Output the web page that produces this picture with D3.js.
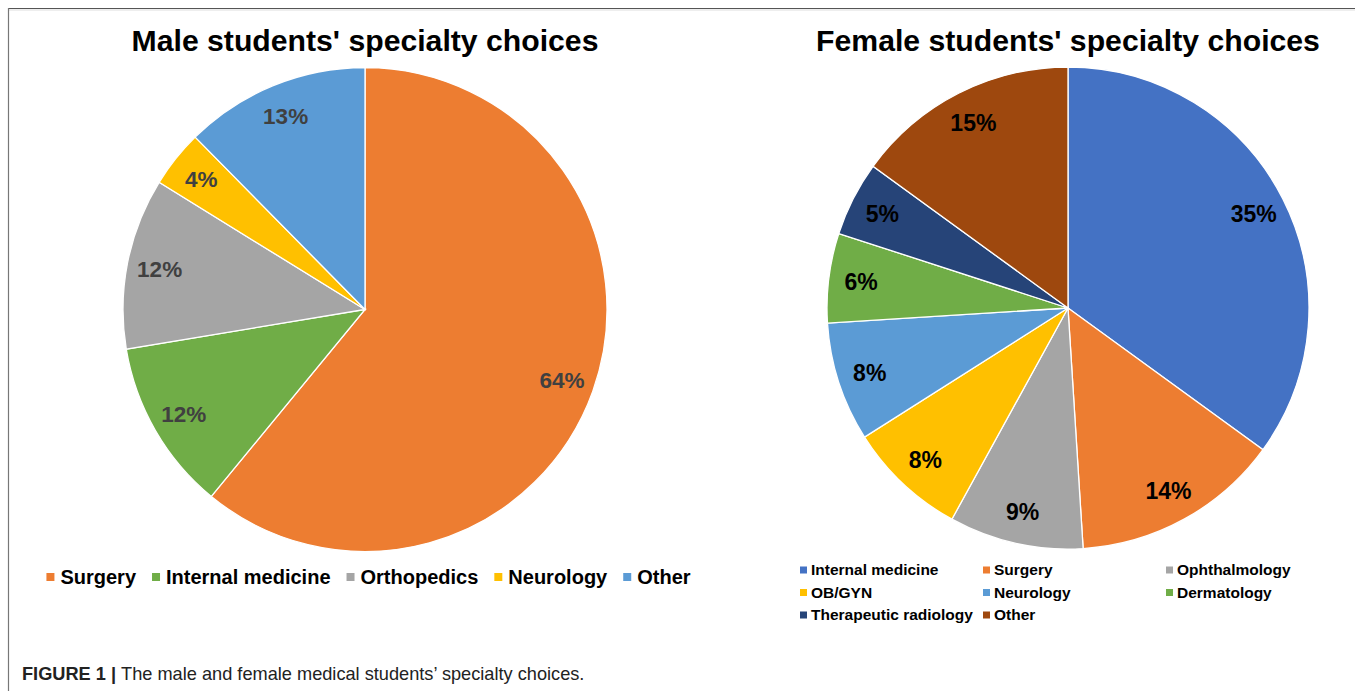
<!DOCTYPE html>
<html>
<head>
<meta charset="utf-8">
<script src="https://cdn.jsdelivr.net/npm/d3@7"></script>
<style>
  body { margin: 0; background: #fff; }
  text { font-family: "Liberation Sans", Arial, sans-serif; }
</style>
</head>
<body>
<script>
// male chart data
var maleCats = ["Surgery", "Internal medicine", "Orthopedics", "Neurology", "Other"];
var maleVals = [64, 12, 12, 4, 13];
var maleColors = ["#ED7D31", "#70AD47", "#A5A5A5", "#FFC000", "#5B9BD5"];

// female chart data
var femaleCats = ["Internal medicine", "Surgery", "Ophthalmology", "OB/GYN", "Neurology", "Dermatology", "Therapeutic radiology", "Other"];
var femaleVals = [35, 14, 9, 8, 8, 6, 5, 15];
var femaleColors = ["#4472C4", "#ED7D31", "#A5A5A5", "#FFC000", "#5B9BD5", "#70AD47", "#264478", "#9E480E"];

var width = 1355, height = 691;

var svg = d3.select("body").append("svg")
    .attr("width", width)
    .attr("height", height);

// frame lines (top + left only)
svg.append("line").attr("x1", 8).attr("x2", width).attr("y1", 8.5).attr("y2", 8.5)
    .style("stroke", "#555").style("stroke-width", 1.2);
svg.append("line").attr("x1", 8).attr("x2", width).attr("y1", 10).attr("y2", 10)
    .style("stroke", "#ddd").style("stroke-width", 1);
svg.append("line").attr("x1", 8.5).attr("x2", 8.5).attr("y1", 8).attr("y2", height)
    .style("stroke", "#777").style("stroke-width", 1.2);

// draws one pie with title and labels
function drawPie(cats, vals, colors, cx, cy, r, title, labelColor, labelSize) {
  var g = svg.append("g").attr("transform", "translate(" + cx + "," + cy + ")");

  var pie = d3.pie().sort(null).value(function(d) { return d; });
  var arc = d3.arc().innerRadius(0).outerRadius(r);
  var labelArc = d3.arc().innerRadius(r * 0.865).outerRadius(r * 0.865);

  var arcs = pie(vals);

  g.selectAll("path.slice")
    .data(arcs)
  .enter().append("path")
    .attr("class", "slice")
    .attr("d", arc)
    .style("fill", function(d, i) { return colors[i]; })
    .style("stroke", "#fff")
    .style("stroke-width", 1.3);

  g.selectAll("text.lbl")
    .data(arcs)
  .enter().append("text")
    .attr("class", "lbl")
    .attr("transform", function(d) { return "translate(" + labelArc.centroid(d) + ")"; })
    .attr("text-anchor", "middle")
    .attr("dy", "0.36em")
    .style("font-weight", "bold")
    .style("font-size", labelSize + "px")
    .style("fill", labelColor)
    .text(function(d) { return d.data + "%"; });

  svg.append("text")
    .attr("x", cx)
    .attr("y", 51)
    .attr("text-anchor", "middle")
    .style("font-weight", "bold")
    .style("font-size", "30.2px")
    .style("fill", "#000")
    .text(title);
}

drawPie(maleCats, maleVals, maleColors, 365, 309.5, 242, "Male students' specialty choices", "#404040", 22.5);
drawPie(femaleCats, femaleVals, femaleColors, 1068, 308, 241, "Female students' specialty choices", "#000", 23);

// male legend, one row, centred
var mLeg = svg.append("g");
var xpos = 0;
maleCats.forEach(function(c, i) {
  var item = mLeg.append("g").attr("transform", "translate(" + xpos + ",0)");
  item.append("rect").attr("x", 0).attr("y", -4).attr("width", 8).attr("height", 8)
      .style("fill", maleColors[i]);
  var t = item.append("text").attr("x", 14).attr("dy", "0.35em")
      .style("font-weight", "bold").style("font-size", "20px").style("fill", "#000")
      .text(c);
  xpos += 14 + t.node().getComputedTextLength() + 16;
});
var legW = xpos - 16;
mLeg.attr("transform", "translate(" + (368.5 - legW / 2) + ",577)");

// female legend, 3 columns grid
var colX = d3.scalePoint().domain([0, 1, 2]).range([800, 1166]);
var rowY = d3.scalePoint().domain([0, 1, 2]).range([570, 615]);
femaleCats.forEach(function(c, i) {
  var item = svg.append("g")
      .attr("transform", "translate(" + colX(i % 3) + "," + rowY(Math.floor(i / 3)) + ")");
  item.append("rect").attr("x", 0).attr("y", -3.5).attr("width", 7).attr("height", 7)
      .style("fill", femaleColors[i]);
  item.append("text").attr("x", 11).attr("dy", "0.35em")
      .style("font-weight", "bold").style("font-size", "15.5px").style("fill", "#000")
      .text(c);
});

// caption
var cap = svg.append("text").attr("x", 22).attr("y", 680)
    .style("font-size", "18.2px").style("fill", "#222");
cap.append("tspan").style("font-weight", "bold").text("FIGURE 1 | ");
cap.append("tspan").text("The male and female medical students\u2019 specialty choices.");
</script>
</body>
</html>
